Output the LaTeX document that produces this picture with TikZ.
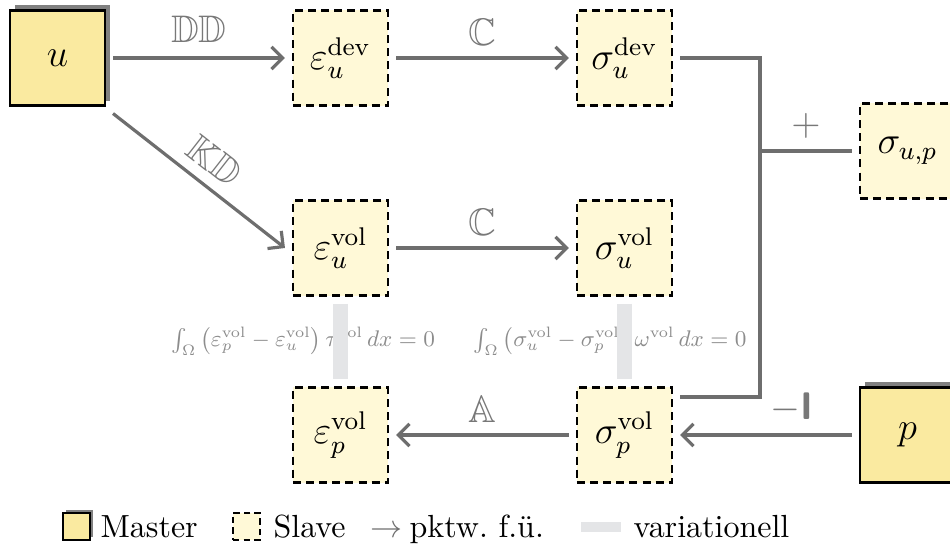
\documentclass[tikz,border=0pt]{standalone}
\usepackage{amsmath,amssymb}
\usepackage{graphicx}
\usetikzlibrary{arrows.meta,shadows}
\definecolor{masterfill}{RGB}{250,234,160}
\definecolor{slavefill}{RGB}{255,249,215}
\definecolor{linegray}{RGB}{110,110,110}
\definecolor{labelgray}{RGB}{120,120,120}
\definecolor{shadowgray}{RGB}{128,128,128}
\definecolor{vargray}{RGB}{228,229,231}
\definecolor{formgray}{RGB}{140,140,140}
\begin{document}
\begin{tikzpicture}[x=0.3125pt,y=-0.3125pt,
  master/.style={draw=black, line width=0.8pt, fill=masterfill, minimum size=29.7pt,
    inner sep=0pt, outer sep=2.5pt, font=\large,
    general shadow={fill=shadowgray, shadow xshift=1.56pt, shadow yshift=1.56pt}},
  slave/.style={draw=black, line width=0.7pt, dash pattern=on 2.5pt off 1.6pt,
    fill=slavefill, minimum size=29.7pt, inner sep=0pt, outer sep=2.5pt, font=\large},
  conn/.style={draw=linegray, line width=1.0pt, -{Straight Barb[length=3.5pt,width=7pt]}},
  plainline/.style={draw=linegray, line width=1.0pt},
  lbl/.style={text=labelgray, font=\large},
  varline/.style={draw=vargray, line width=4.4pt},
  formula/.style={text=formgray, font=\small},
  mastersmall/.style={draw=black, line width=0.8pt, fill=masterfill, minimum size=8.4pt,
    inner sep=0pt, general shadow={fill=shadowgray, shadow xshift=0.9pt, shadow yshift=0.9pt}},
  slavesmall/.style={draw=black, line width=0.7pt, dash pattern=on 2pt off 1.3pt,
    fill=slavefill, minimum size=8.4pt, inner sep=0pt},
  legtext/.style={anchor=base west, inner sep=0pt}
]
\useasboundingbox (0,0) rectangle (950,548);
\clip (0,0) rectangle (950,548);

% nodes
\node[master] (u) at (57.5,58) {$u$};
\node[slave] (eud) at (340.5,58) {$\varepsilon_u^{\mathrm{dev}}$};
\node[slave] (sud) at (624.5,58) {$\sigma_u^{\mathrm{dev}}$};
\node[slave] (euv) at (340.5,248) {$\varepsilon_u^{\mathrm{vol}}$};
\node[slave] (suv) at (624.5,248) {$\sigma_u^{\mathrm{vol}}$};
\node[slave] (epv) at (340.5,435) {$\varepsilon_p^{\mathrm{vol}}$};
\node[slave] (spv) at (624.5,435) {$\sigma_p^{\mathrm{vol}}$};
\node[slave] (sup) at (907.5,151) {$\sigma_{u,p}$};
\node[master] (p) at (907.5,435) {$p$};

% formulas
\node[formula] (f1) at (303,341) {\scalebox{0.785}{$\int_\Omega \left(\varepsilon_p^{\mathrm{vol}} - \varepsilon_u^{\mathrm{vol}}\right) \tau^{\mathrm{vol}}\, dx = 0$}};
\node[formula] (f2) at (610,341) {\scalebox{0.785}{$\int_\Omega \left(\sigma_u^{\mathrm{vol}} - \sigma_p^{\mathrm{vol}}\right) \omega^{\mathrm{vol}}\, dx = 0$}};

% variational bars
\draw[varline] (euv.south) -- (epv.north);
\draw[varline] (suv.south) -- (spv.north);

% connectors
\draw[conn] (u.east) -- node[lbl, above=1pt] {$\mathbb{DD}$} (eud.west);
\draw[conn] (u.south east) -- node[lbl, above=0pt, sloped] {$\mathbb{KD}$} (euv.west);
\draw[conn] (eud.east) -- node[lbl, above=0pt] {$\mathbb{C}$} (sud.west);
\draw[conn] (euv.east) -- node[lbl, above=0pt] {$\mathbb{C}$} (suv.west);
\draw[conn] (spv.west) -- node[lbl, above=0pt] {$\mathbb{A}$} (epv.east);

\coordinate (jt) at (760,151);
\coordinate (jb) at (760,397);
\draw[plainline] (sud.east) -| (jb) -- (spv.east |- jb);
\draw[plainline] (jt) -- node[lbl, above=0pt] {$+$} (sup.west);
\draw[conn] (p.west) -- node[lbl, above=0pt, pos=0.35] {$-$\textsf{\textbf{I}}} (spv.east);

% legend
\node[mastersmall] (lm) at (76.5,526.5) {};
\node[legtext] (lmt) at (100,538) {Master};
\node[slavesmall] (ls) at (246.5,526.5) {};
\node[legtext] (lst) at (273,538) {Slave};
\node[legtext] (la) at (370,538) {\textcolor{linegray}{$\rightarrow$}};
\node[legtext] (lat) at (409,538) {pktw.\ f.\"u.};
\node[fill=vargray, minimum width=12.5pt, minimum height=3.1pt, inner sep=0pt] (lv) at (601,527) {};
\node[legtext] (lvt) at (633,538) {variationell};
\end{tikzpicture}
\end{document}
